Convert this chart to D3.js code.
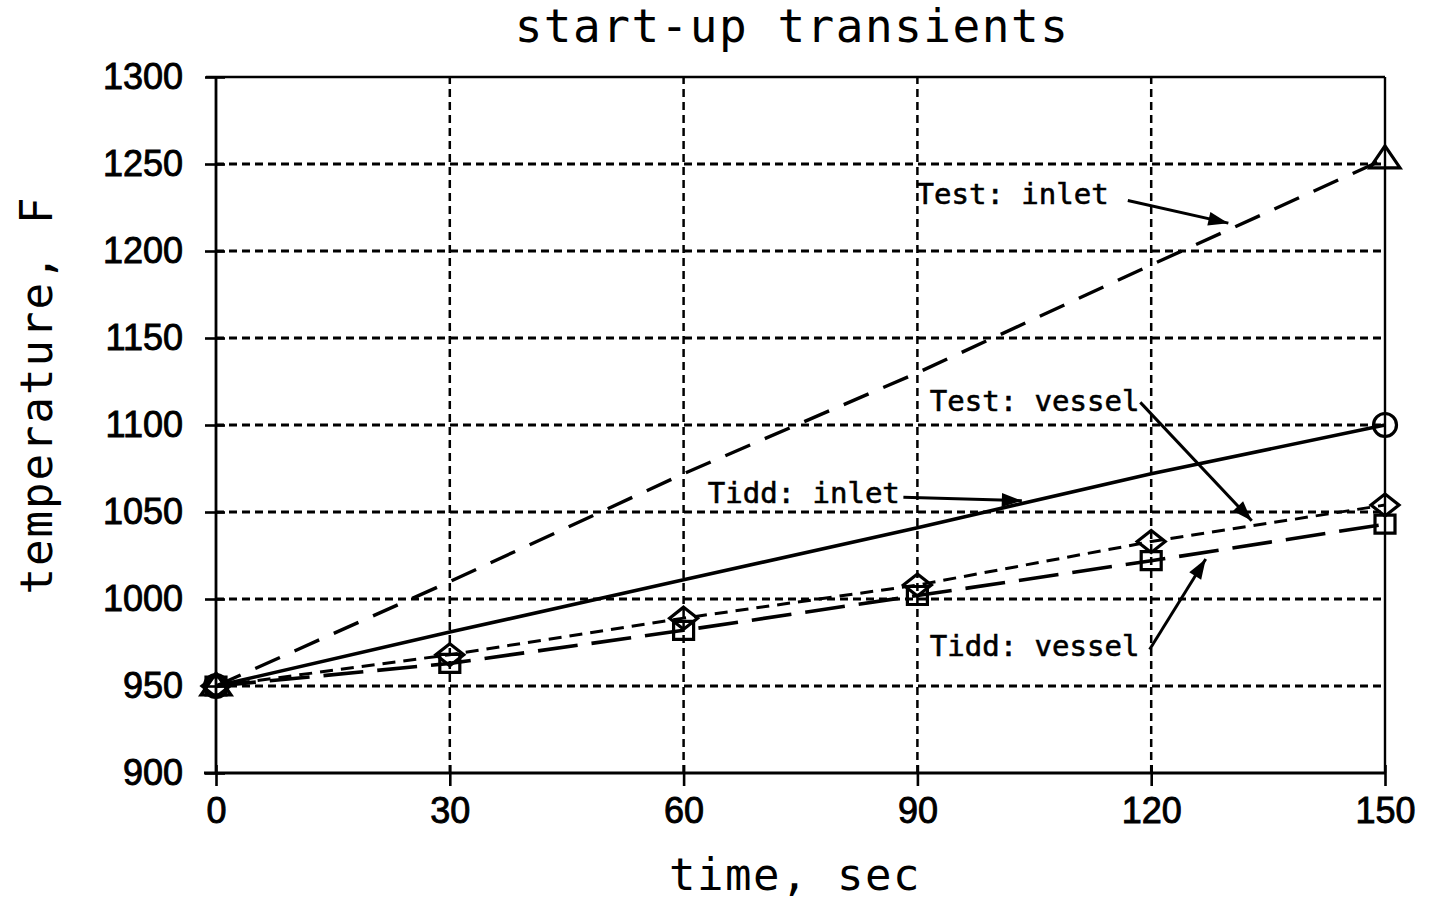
<!DOCTYPE html>
<html>
<head>
<meta charset="utf-8">
<script src="https://cdn.jsdelivr.net/npm/d3@7"></script>
<style>
  html, body { margin: 0; padding: 0; background: #fff; }
  svg { display: block; }
  .tick text { font-family: "Liberation Sans", Arial, sans-serif; font-size: 36px; fill: #000; stroke: #000; stroke-width: 0.9px; }
  .mono { font-family: "DejaVu Sans Mono", monospace; fill: #000; }
</style>
</head>
<body>
<svg id="chart" width="1429" height="900"></svg>
<script>
// Start-up transient temperatures, sampled every 30 s
const times = [0, 30, 60, 90, 120, 150];
const testInlet  = [950, 1010, 1072, 1130, 1192, 1253];
const tiddInlet  = [950, 981, 1011, 1041, 1072, 1100];
const testVessel = [950, 968, 989, 1008, 1033, 1054];
const tiddVessel = [950, 963, 982, 1002, 1022, 1043];

const xTicks = [0, 30, 60, 90, 120, 150];
const yTicks = [900, 950, 1000, 1050, 1100, 1150, 1200, 1250, 1300];

// Callout labels: text, label anchor (time, temp), arrow from -> to (time, temp)
const notes = [
  { text: "Test: inlet",  at: [89.9, 1227], from: [117.0, 1229], to: [129.9, 1216] },
  { text: "Tidd: inlet",  at: [63.1, 1055], from: [88.2, 1058.5], to: [103.4, 1056.5] },
  { text: "Test: vessel", at: [91.6, 1108], from: [118.6, 1113], to: [132.9, 1045] },
  { text: "Tidd: vessel", at: [91.6, 967],  from: [119.8, 971], to: [127.0, 1023] }
];

const svg = d3.select("#chart");
const x = d3.scaleLinear().domain([0, 150]).range([216, 1385]);
const y = d3.scaleLinear().domain([900, 1300]).range([773, 77]);

// dashed grid
const g = svg.append("g");
g.selectAll("line.hgrid").data(yTicks.filter(v => v > 900 && v < 1300)).join("line")
  .attr("x1", x(0)).attr("x2", x(150)).attr("y1", d => y(d)).attr("y2", d => y(d))
  .attr("stroke", "#000").attr("stroke-width", 2.8).attr("stroke-dasharray", "8,5");
g.selectAll("line.vgrid").data(xTicks.filter(v => v > 0 && v < 150)).join("line")
  .attr("x1", d => x(d)).attr("x2", d => x(d)).attr("y1", y(900)).attr("y2", y(1300))
  .attr("stroke", "#000").attr("stroke-width", 2.5).attr("stroke-dasharray", "8,5");

// frame: top and right borders
svg.append("line").attr("x1", x(0) - 10).attr("x2", x(150)).attr("y1", y(1300)).attr("y2", y(1300))
  .attr("stroke", "#000").attr("stroke-width", 2.6);
svg.append("line").attr("x1", x(150)).attr("x2", x(150)).attr("y1", y(1300)).attr("y2", y(900))
  .attr("stroke", "#000").attr("stroke-width", 2.4);

// axes
const yAxis = svg.append("g").attr("transform", `translate(${x(0)},0)`)
  .call(d3.axisLeft(y).tickValues(yTicks).tickFormat(d3.format("d")).tickSize(11).tickPadding(22));
yAxis.selectAll(".tick line").attr("x1", 9).attr("stroke-width", 2.6);
yAxis.select(".domain").attr("d", `M0,${y(1300)}V${y(900)}`).attr("stroke-width", 2.8);

const xAxis = svg.append("g").attr("transform", `translate(0,${y(900)})`)
  .call(d3.axisBottom(x).tickValues(xTicks).tickFormat(d3.format("d")).tickSize(13).tickPadding(11));
xAxis.selectAll(".tick line").attr("y1", -8).attr("stroke-width", 2.6);
xAxis.select(".domain").attr("d", `M${x(0) - 12},0H${x(150)}`).attr("stroke-width", 2.8);

// series lines
const series = [
  { vals: testInlet,  dash: "27,16", w: 3.4, marks: [0, 5], shape: "triangle" },
  { vals: tiddInlet,  dash: null,    w: 3.6, marks: [0, 5], shape: "circle" },
  { vals: testVessel, dash: "13,8",  w: 3.0, marks: [0, 1, 2, 3, 4, 5], shape: "diamond" },
  { vals: tiddVessel, dash: "40,14", w: 3.6, marks: [0, 1, 2, 3, 4, 5], shape: "square" }
];
const line = d3.line().x((d, i) => x(times[i])).y(d => y(d));
series.forEach(s => {
  svg.append("path").attr("d", line(s.vals)).attr("fill", "none")
    .attr("stroke", "#000").attr("stroke-width", s.w)
    .attr("stroke-dasharray", s.dash);
});

// markers
function markerPath(shape) {
  const p = d3.path();
  if (shape === "triangle") { p.moveTo(0, -13); p.lineTo(15, 9); p.lineTo(-15, 9); p.closePath(); }
  else if (shape === "diamond") { p.moveTo(0, -11); p.lineTo(14, 0); p.lineTo(0, 11); p.lineTo(-14, 0); p.closePath(); }
  else if (shape === "square") { p.rect(-10, -9, 20, 18); }
  else { p.arc(0, 0, 11.5, 0, 2 * Math.PI); }
  return p.toString();
}
series.forEach(s => {
  svg.append("g").selectAll("path").data(s.marks).join("path")
    .attr("transform", i => `translate(${x(times[i])},${y(s.vals[i])})`)
    .attr("d", markerPath(s.shape))
    .attr("fill", "none").attr("stroke", "#000").attr("stroke-width", 3.2);
});

// callouts
notes.forEach(n => {
  svg.append("text").attr("class", "mono").attr("x", x(n.at[0])).attr("y", y(n.at[1]))
    .attr("font-size", 29).attr("stroke", "#000").attr("stroke-width", 0.6).text(n.text);
  const x1 = x(n.from[0]), y1 = y(n.from[1]), x2 = x(n.to[0]), y2 = y(n.to[1]);
  svg.append("line").attr("x1", x1).attr("y1", y1).attr("x2", x2).attr("y2", y2)
    .attr("stroke", "#000").attr("stroke-width", 3);
  const a = Math.atan2(y2 - y1, x2 - x1), L = 20, W = 7;
  const bx = x2 - L * Math.cos(a), by = y2 - L * Math.sin(a);
  const head = [[x2, y2],
    [bx + W * Math.sin(a), by - W * Math.cos(a)],
    [bx - W * Math.sin(a), by + W * Math.cos(a)]];
  svg.append("path").attr("d", "M" + head.join("L") + "Z").attr("fill", "#000");
});

// titles
svg.append("text").attr("class", "mono").attr("x", 792).attr("y", 42)
  .attr("text-anchor", "middle").attr("font-size", 46).attr("letter-spacing", 1.5)
  .text("start-up transients");
svg.append("text").attr("class", "mono").attr("x", 795).attr("y", 890)
  .attr("text-anchor", "middle").attr("font-size", 44).attr("letter-spacing", 1.5)
  .text("time, sec");
svg.append("text").attr("class", "mono")
  .attr("transform", "translate(52,395) rotate(-90)")
  .attr("text-anchor", "middle").attr("font-size", 44).attr("letter-spacing", 2)
  .text("temperature, F");
</script>
</body>
</html>
